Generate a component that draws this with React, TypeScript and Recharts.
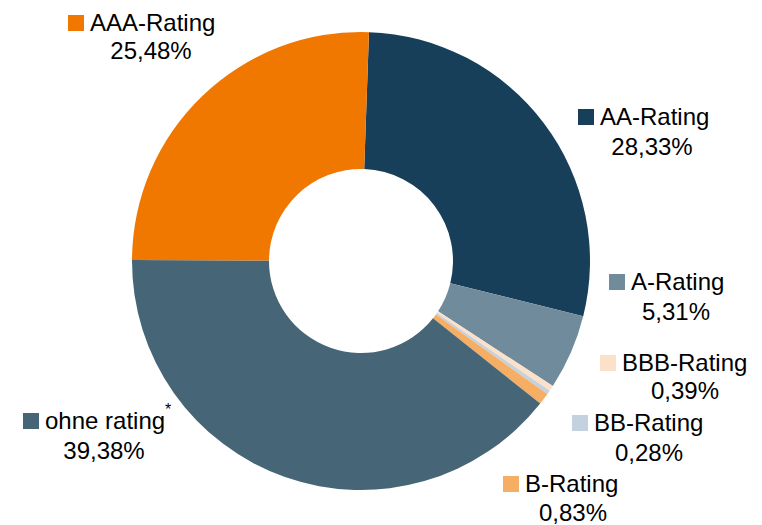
import React from 'react';
import { PieChart, Pie, Cell } from 'recharts';

const categories = ['AA-Rating', 'A-Rating', 'BBB-Rating', 'BB-Rating', 'B-Rating', 'ohne rating', 'AAA-Rating'];
const shares = [28.33, 5.31, 0.39, 0.28, 0.83, 39.38, 25.48];
const footnotes = ['', '', '', '', '', '*', ''];

const colors = ['#173F5A', '#708C9C', '#FCE1C8', '#C4D2E0', '#F5AE64', '#466678', '#F07800'];

// label layout relative to pie centre: text start x, line1 y, percent centre x, line2 y
const labelLayout = [
  { tx: 239, y1: -145, px: 291, y2: -115 },
  { tx: 270, y1: 20, px: 315, y2: 50 },
  { tx: 261, y1: 101, px: 324, y2: 129 },
  { tx: 233, y1: 161, px: 288, y2: 191 },
  { tx: 164, y1: 222, px: 212, y2: 251 },
  { tx: -316, y1: 159, px: -257, y2: 189 },
  { tx: -271, y1: -239, px: -210, y2: -211 },
];

const data = categories.map((name, i) => ({ name, value: shares[i], note: footnotes[i] }));

const FONT = '"Liberation Sans", Arial, sans-serif';
const FS = 24;

const renderLabel = (props: any) => {
  const { cx, cy, index } = props;
  const l = labelLayout[index];
  const d = data[index];
  const pct = d.value.toFixed(2).replace('.', ',') + '%';
  return (
    <g key={'lbl' + index}>
      <rect x={cx + l.tx - 22} y={cy + l.y1 - 7} width={16} height={16} fill={colors[index]} />
      <text x={cx + l.tx} y={cy + l.y1} dominantBaseline="central" textAnchor="start" fontFamily={FONT} fontSize={FS} fill="#000">
        {d.name}
        {d.note ? (
          <tspan fontSize={16} dy={-11}>{d.note}</tspan>
        ) : null}
      </text>
      <text x={cx + l.px} y={cy + l.y2} dominantBaseline="central" textAnchor="middle" fontFamily={FONT} fontSize={FS} fill="#000">
        {pct}
      </text>
    </g>
  );
};

export default function App() {
  return (
    <div style={{ position: 'absolute', left: 0, top: 0, width: 762, height: 525, background: '#fff' }}>
      <PieChart width={762} height={525} margin={{ top: 0, right: 0, bottom: 0, left: 0 }}>
        <Pie
          data={data}
          dataKey="value"
          nameKey="name"
          cx={361}
          cy={261}
          innerRadius={92}
          outerRadius={229}
          startAngle={88}
          endAngle={-272}
          stroke="none"
          label={renderLabel}
          labelLine={false}
          isAnimationActive={false}
        >
          {data.map((d, i) => (
            <Cell key={d.name} fill={colors[i]} />
          ))}
        </Pie>
      </PieChart>
    </div>
  );
}
